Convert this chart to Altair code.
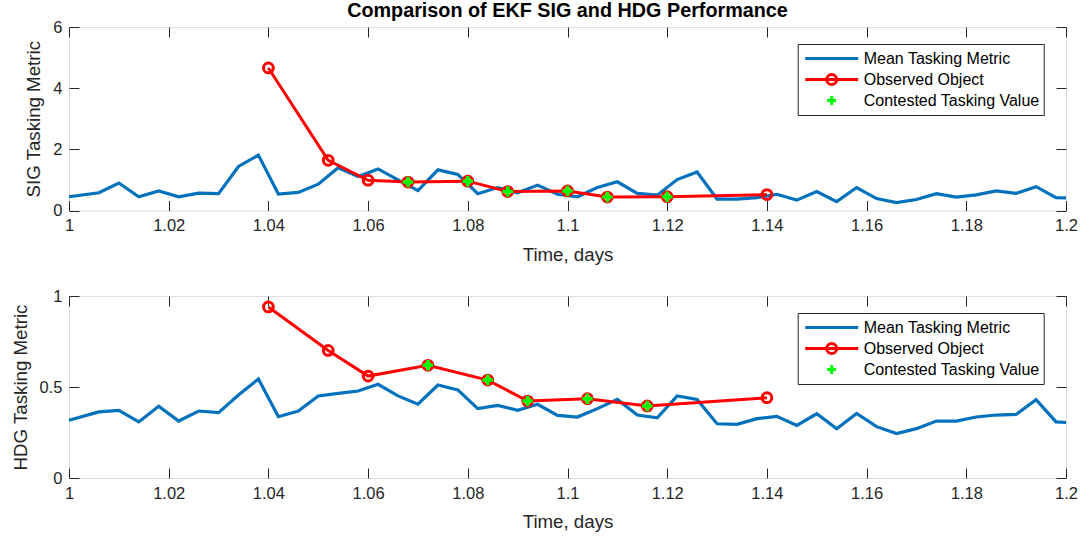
import altair as alt
import pandas as pd

# ---------------- data ----------------
T_MEAN = [1.000, 1.006, 1.010, 1.014, 1.018, 1.022, 1.026, 1.030, 1.034, 1.038,
          1.042, 1.046, 1.050, 1.054, 1.058, 1.062, 1.066, 1.070, 1.074, 1.078,
          1.082, 1.086, 1.090, 1.094, 1.098, 1.102, 1.106, 1.110, 1.114, 1.118,
          1.122, 1.126, 1.130, 1.134, 1.138, 1.142, 1.146, 1.150, 1.154, 1.158,
          1.162, 1.166, 1.170, 1.174, 1.178, 1.182, 1.186, 1.190, 1.194, 1.198,
          1.200]

SIG_MEAN = [0.45, 0.58, 0.90, 0.45, 0.64, 0.45, 0.57, 0.55, 1.44, 1.81,
            0.54, 0.59, 0.86, 1.40, 1.11, 1.36, 1.00, 0.65, 1.33, 1.18,
            0.55, 0.75, 0.58, 0.83, 0.53, 0.45, 0.75, 0.94, 0.56, 0.50,
            1.01, 1.26, 0.37, 0.37, 0.42, 0.53, 0.34, 0.62, 0.29, 0.75,
            0.39, 0.26, 0.36, 0.55, 0.44, 0.51, 0.64, 0.56, 0.78, 0.42,
            0.41]

HDG_MEAN = [0.317, 0.363, 0.372, 0.308, 0.394, 0.313, 0.368, 0.359, 0.456, 0.544,
            0.337, 0.368, 0.451, 0.465, 0.478, 0.515, 0.451, 0.406, 0.511, 0.484,
            0.381, 0.399, 0.372, 0.405, 0.344, 0.335, 0.381, 0.432, 0.346, 0.331,
            0.451, 0.432, 0.298, 0.295, 0.326, 0.339, 0.289, 0.353, 0.271, 0.355,
            0.282, 0.244, 0.271, 0.313, 0.313, 0.335, 0.346, 0.350, 0.430, 0.308,
            0.305]

SIG_OBS_T = [1.040, 1.052, 1.060, 1.068, 1.080, 1.088, 1.100, 1.108, 1.120, 1.140]
SIG_OBS_V = [4.66, 1.64, 0.99, 0.93, 0.96, 0.62, 0.64, 0.44, 0.45, 0.52]
SIG_CON_T = [1.068, 1.080, 1.088, 1.100, 1.108, 1.120]
SIG_CON_V = [0.93, 0.96, 0.62, 0.64, 0.44, 0.45]

HDG_OBS_T = [1.040, 1.052, 1.060, 1.072, 1.084, 1.092, 1.104, 1.116, 1.140]
HDG_OBS_V = [0.940, 0.701, 0.560, 0.619, 0.538, 0.423, 0.436, 0.396, 0.441]
HDG_CON_T = [1.072, 1.084, 1.092, 1.104, 1.116]
HDG_CON_V = [0.619, 0.538, 0.423, 0.436, 0.396]

X_TICKS = [1.0, 1.02, 1.04, 1.06, 1.08, 1.1, 1.12, 1.14, 1.16, 1.18, 1.2]
SIG_TICKS = [0, 2, 4, 6]
HDG_TICKS = [0, 0.5, 1]

LEGEND_LABELS = ["Mean Tasking Metric", "Observed Object", "Contested Tasking Value"]

TITLE = "Comparison of EKF SIG and HDG Performance"

# ---------------- style ----------------
FONT = "Liberation Sans"
BLUE = "#0072BD"
RED = "#FF0000"
GREEN = "#00FF00"
AX = "#262626"
LEGEND_COLORS = [BLUE, RED, GREEN]
LEGEND_SHAPES = [
    "M-1,0L1,0",
    "M-1,0L1,0M-0.19,0A0.19,0.19,0,1,1,0.19,0A0.19,0.19,0,1,1,-0.19,0",
    "M-0.17,0L0.17,0M0,-0.17L0,0.17",
]
PLUS = "M-1,0L1,0M0,-1L0,1"


def make_panel(mean_v, obs_t, obs_v, con_t, con_v, y_ticks, y_title, h, title=None):
    mean_df = pd.DataFrame({"t": T_MEAN, "v": mean_v})
    obs_df = pd.DataFrame({"t": obs_t, "v": obs_v})
    con_df = pd.DataFrame({"t": con_t, "v": con_v})
    leg_df = pd.DataFrame({"series": LEGEND_LABELS})

    xs = alt.Scale(domain=[X_TICKS[0], X_TICKS[-1]], nice=False, zero=False)
    ys = alt.Scale(domain=[y_ticks[0], y_ticks[-1]], nice=False, zero=False)

    common = dict(labelFont=FONT, labelFontSize=16.5, labelColor=AX,
                  titleFont=FONT, titleFontSize=18.7, titleFontWeight="normal",
                  titleColor=AX, tickColor=AX, tickWidth=1, tickSize=10,
                  offset=-10, domain=False, grid=False, labelFlush=False,
                  labelOverlap=False)
    x_bot = alt.Axis(orient="bottom", values=X_TICKS, format=".3~f", title="Time, days",
                     labelPadding=7, titlePadding=11, **common)
    y_left = alt.Axis(orient="left", values=y_ticks, format="~g", title=y_title,
                      labelPadding=7, titlePadding=9, **common)
    x_top = alt.Axis(orient="top", values=X_TICKS, labels=False, title=None, **common)
    y_right = alt.Axis(orient="right", values=y_ticks, labels=False, title=None, **common)

    leg = alt.Legend(title=None, orient="none", legendX=728.7, legendY=17,
                     padding=4, symbolSize=2809, symbolStrokeWidth=3, clipHeight=21,
                     rowPadding=0, labelOffset=4, labelFont=FONT, labelFontSize=16,
                     labelColor="black", strokeColor=AX, fillColor="white",
                     symbolOffset=2, labelLimit=400)

    mean = alt.Chart(mean_df).mark_line(color=BLUE, strokeWidth=3.2).encode(
        x=alt.X("t:Q", scale=xs, axis=x_bot),
        y=alt.Y("v:Q", scale=ys, axis=y_left))
    obs_line = alt.Chart(obs_df).mark_line(color=RED, strokeWidth=3).encode(
        x=alt.X("t:Q", scale=xs, axis=x_top),
        y=alt.Y("v:Q", scale=ys, axis=y_right))
    obs_pts = alt.Chart(obs_df).mark_point(shape="circle", filled=False, color=RED,
                                           strokeWidth=3, size=95, opacity=1).encode(
        x=alt.X("t:Q", scale=xs, axis=None),
        y=alt.Y("v:Q", scale=ys, axis=None))
    con_pts = alt.Chart(con_df).mark_point(shape=PLUS, filled=False, color=GREEN,
                                           strokeWidth=3.5, size=110, opacity=1).encode(
        x=alt.X("t:Q", scale=xs, axis=None),
        y=alt.Y("v:Q", scale=ys, axis=None))
    legend = alt.Chart(leg_df).transform_filter("false").mark_point(
        filled=False, strokeWidth=3, opacity=1).encode(
        color=alt.Color("series:N", scale=alt.Scale(domain=LEGEND_LABELS, range=LEGEND_COLORS), legend=leg),
        shape=alt.Shape("series:N", scale=alt.Scale(domain=LEGEND_LABELS, range=LEGEND_SHAPES), legend=leg))

    props = dict(width=997, height=h)
    if title is not None:
        props["title"] = alt.TitleParams(text=title, font=FONT, fontSize=19.8, fontWeight="bold",
                                         color="black", anchor="middle", offset=-2)
    return (alt.layer(mean, obs_line, obs_pts, con_pts, legend)
            .resolve_axis(x="independent", y="independent")
            .properties(**props))


top = make_panel(SIG_MEAN, SIG_OBS_T, SIG_OBS_V, SIG_CON_T, SIG_CON_V,
                 SIG_TICKS, "SIG Tasking Metric", 183.5, TITLE)
bottom = make_panel(HDG_MEAN, HDG_OBS_T, HDG_OBS_V, HDG_CON_T, HDG_CON_V,
                    HDG_TICKS, "HDG Tasking Metric", 182)

chart = (alt.vconcat(top, bottom, spacing=22)
         .resolve_scale(x="independent", y="independent", color="independent", shape="independent")
         .properties(padding={"left": 10, "top": 0, "right": 10, "bottom": 5}, background="white")
         .configure_view(stroke=AX, strokeWidth=1)
         .configure(font=FONT))

chart.save("out.html", embed_options={"renderer": "svg", "actions": False})
